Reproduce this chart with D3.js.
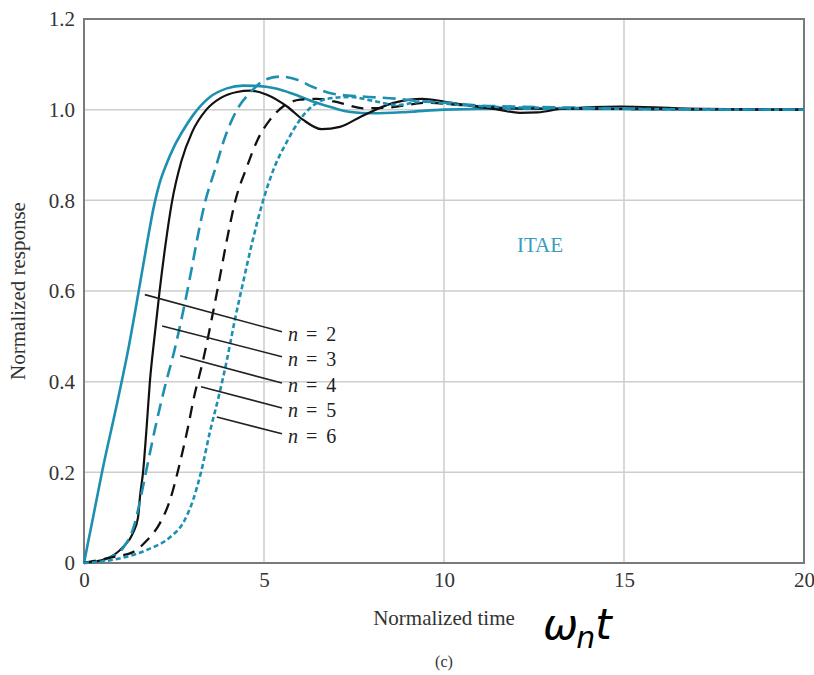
<!DOCTYPE html>
<html>
<head>
<meta charset="utf-8">
<script src="https://cdn.jsdelivr.net/npm/d3@7"></script>
<style>
  body { margin: 0; background: #fff; }
  svg { display: block; }
</style>
</head>
<body>
<svg></svg>
<script>
// values: [normalized time, normalized response]
const n2 = [[0,0],[0.25,0.1],[0.5,0.2],[0.94,0.36],[1.25,0.48],[1.52,0.6],[1.75,0.705],[1.95,0.79],[2.1,0.838],[2.3,0.882],[2.5,0.918],[2.75,0.954],[3.03,0.988],[3.5,1.028],[3.97,1.047],[4.42,1.053],[4.89,1.052],[5.36,1.046],[5.8,1.035],[6.36,1.018],[6.92,1.004],[7.4,0.995],[8.0,0.992],[9,0.995],[10,1.0],[12,1.002],[20,1.0]]
const n3 = [[0,0],[0.64,0.01],[1.08,0.035],[1.36,0.066],[1.5,0.1],[1.56,0.15],[1.64,0.2],[1.74,0.3],[1.83,0.4],[1.96,0.5],[2.1,0.6],[2.26,0.7],[2.44,0.795],[2.7,0.885],[3.0,0.95],[3.4,1.0],[3.8,1.026],[4.25,1.039],[4.61,1.042],[5.08,1.033],[5.64,1.007],[6.08,0.978],[6.6,0.957],[7.11,0.962],[7.7,0.985],[8.6,1.015],[9.4,1.024],[10,1.018],[10.7,1.009],[11.5,1.0],[12.1,0.993],[12.6,0.994],[13.3,1.002],[14.9,1.007],[16.5,1.003],[20,1.0]]
const n4 = [[0,0],[0.64,0.01],[1.1,0.035],[1.42,0.09],[1.56,0.139],[1.72,0.2],[1.97,0.295],[2.25,0.39],[2.5,0.465],[2.7,0.535],[2.86,0.596],[3.0,0.653],[3.14,0.713],[3.36,0.795],[3.64,0.868],[3.92,0.94],[4.25,1.0],[4.61,1.037],[5.03,1.066],[5.44,1.073],[5.92,1.066],[6.36,1.05],[6.92,1.035],[7.75,1.029],[8.7,1.024],[9.4,1.018],[10.1,1.015],[11,1.009],[11.9,1.007],[14,1.004],[16,1.001],[20,1.0]]
const n5 = [[0,0],[0.8,0.013],[1.36,0.024],[1.75,0.05],[2.11,0.088],[2.39,0.139],[2.6,0.2],[2.75,0.25],[2.89,0.3],[3.04,0.36],[3.31,0.448],[3.56,0.543],[3.72,0.608],[3.97,0.713],[4.2,0.798],[4.53,0.875],[4.83,0.935],[5.17,0.978],[5.53,1.007],[6.0,1.022],[6.47,1.024],[7.11,1.015],[7.75,1.003],[8.5,1.005],[9.5,1.015],[10.5,1.01],[12,1.003],[14,1.002],[20,1.0]]
const n6 = [[0,0],[0.8,0.007],[1.75,0.029],[2.39,0.057],[2.75,0.088],[3.03,0.139],[3.25,0.2],[3.5,0.29],[3.75,0.37],[3.97,0.448],[4.19,0.536],[4.4,0.612],[4.69,0.713],[4.97,0.798],[5.25,0.865],[5.64,0.93],[6.0,0.978],[6.47,1.015],[6.92,1.026],[7.4,1.028],[8.0,1.02],[8.7,1.01],[9.4,1.018],[10.2,1.012],[11.5,1.006],[13,1.004],[15,1.002],[20,1.0]]

const xTicks = [0, 5, 10, 15, 20]
const yTicks = [0, 0.2, 0.4, 0.6, 0.8, 1.0, 1.2]
const yTickLabels = ['0', '0.2', '0.4', '0.6', '0.8', '1.0', '1.2']

// label text, leader start on curve [t, v], leader end [t, v]
const labelNames = ['n', 'n', 'n', 'n', 'n']
const labelValues = ['2', '3', '4', '5', '6']
const leaderFrom = [[1.69,0.592],[2.17,0.523],[2.67,0.457],[3.25,0.389],[3.69,0.322]]
const leaderTo = [[5.5,0.51],[5.5,0.455],[5.5,0.397],[5.5,0.342],[5.5,0.285]]

const width = 814, height = 675
const teal = '#1d90b2'
const svg = d3.select('svg').attr('width', width).attr('height', height)

const x = d3.scaleLinear().domain([0, 20]).range([84, 804])
const y = d3.scaleLinear().domain([0, 1.2]).range([563, 19])

const serif = '"Liberation Serif", "Times New Roman", serif'
const txt = '#333'

// grid
const grid = svg.append('g')
grid.selectAll('.gx').data(xTicks.slice(1, -1)).enter().append('line')
  .attr('x1', d => x(d)).attr('x2', d => x(d))
  .attr('y1', y(0)).attr('y2', y(1.2))
  .attr('stroke', '#cdcdcd').attr('stroke-width', 1.5)
grid.selectAll('.gy').data(yTicks.slice(1, -1)).enter().append('line')
  .attr('y1', d => y(d)).attr('y2', d => y(d))
  .attr('x1', x(0)).attr('x2', x(20))
  .attr('stroke', '#cdcdcd').attr('stroke-width', 1.5)

// frame
svg.append('rect')
  .attr('x', x(0)).attr('y', y(1.2))
  .attr('width', x(20) - x(0)).attr('height', y(0) - y(1.2))
  .attr('fill', 'none').attr('stroke', '#7a7a7a').attr('stroke-width', 2)

// axes (labels only, the frame draws the lines)
const xAxis = svg.append('g')
  .attr('transform', `translate(0,${y(0)})`)
  .call(d3.axisBottom(x).tickValues(xTicks).tickSize(0).tickPadding(9))
xAxis.select('.domain').remove()
xAxis.selectAll('text').style('font-family', serif).style('font-size', '21px').attr('fill', txt)

const yAxis = svg.append('g')
  .attr('transform', `translate(${x(0)},0)`)
  .call(d3.axisLeft(y).tickValues(yTicks).tickSize(0).tickPadding(9)
    .tickFormat((d, i) => yTickLabels[i]))
yAxis.select('.domain').remove()
yAxis.selectAll('text').style('font-family', serif).style('font-size', '21px').attr('fill', txt)

// curves
const line = d3.line()
  .x(d => x(d[0]))
  .y(d => y(d[1]))
  .curve(d3.curveMonotoneX)

const series = [
  {data: n2, color: teal, dash: null, w: 2.6},
  {data: n3, color: '#111', dash: null, w: 2.2},
  {data: n4, color: teal, dash: '13,7', w: 2.6},
  {data: n5, color: '#111', dash: '12,8', w: 2.3},
  {data: n6, color: teal, dash: '5,3', w: 2.6}
]

svg.append('g').selectAll('path').data(series).enter().append('path')
  .attr('d', d => line(d.data))
  .attr('fill', 'none')
  .attr('stroke', d => d.color)
  .attr('stroke-width', d => d.w)
  .attr('stroke-dasharray', d => d.dash)

// leader lines and labels
const lab = svg.append('g')
lab.selectAll('line').data(labelNames).enter().append('line')
  .attr('x1', (d, i) => x(leaderFrom[i][0])).attr('y1', (d, i) => y(leaderFrom[i][1]))
  .attr('x2', (d, i) => x(leaderTo[i][0])).attr('y2', (d, i) => y(leaderTo[i][1]))
  .attr('stroke', '#222').attr('stroke-width', 1.6)

const lt = lab.selectAll('text').data(labelNames).enter().append('text')
  .attr('x', (d, i) => x(leaderTo[i][0]) + 6)
  .attr('y', (d, i) => y(leaderTo[i][1]) + 9)
  .style('font-family', serif).style('font-size', '20px').attr('fill', '#222')
lt.append('tspan').style('font-style', 'italic').text(d => d)
lt.append('tspan').attr('dx', 8).text('=')
lt.append('tspan').attr('dx', 9).text((d, i) => labelValues[i])

svg.append('text')
  .attr('x', 540).attr('y', 252)
  .attr('text-anchor', 'middle')
  .style('font-family', serif).style('font-size', '21px').attr('fill', '#3a9cc0')
  .text('ITAE')

// axis titles
svg.append('text')
  .attr('transform', 'translate(25,291) rotate(-90)')
  .attr('text-anchor', 'middle')
  .style('font-family', serif).style('font-size', '21px').attr('fill', txt)
  .text('Normalized response')

svg.append('text')
  .attr('x', 444).attr('y', 625)
  .attr('text-anchor', 'middle')
  .style('font-family', serif).style('font-size', '21px').attr('fill', txt)
  .text('Normalized time')

const wt = svg.append('text')
  .attr('x', 543).attr('y', 639)
  .style('font-family', '"DejaVu Sans", sans-serif').style('font-size', '42px')
  .style('font-style', 'italic').attr('fill', '#000')
wt.append('tspan').text('ω')
wt.append('tspan').style('font-size', '30px').attr('dx', -2).attr('dy', 9).text('n')
wt.append('tspan').attr('dy', -9).text('t')

svg.append('text')
  .attr('x', 444).attr('y', 667)
  .attr('text-anchor', 'middle')
  .style('font-family', serif).style('font-size', '16px').attr('fill', txt)
  .text('(c)')
</script>
</body>
</html>
